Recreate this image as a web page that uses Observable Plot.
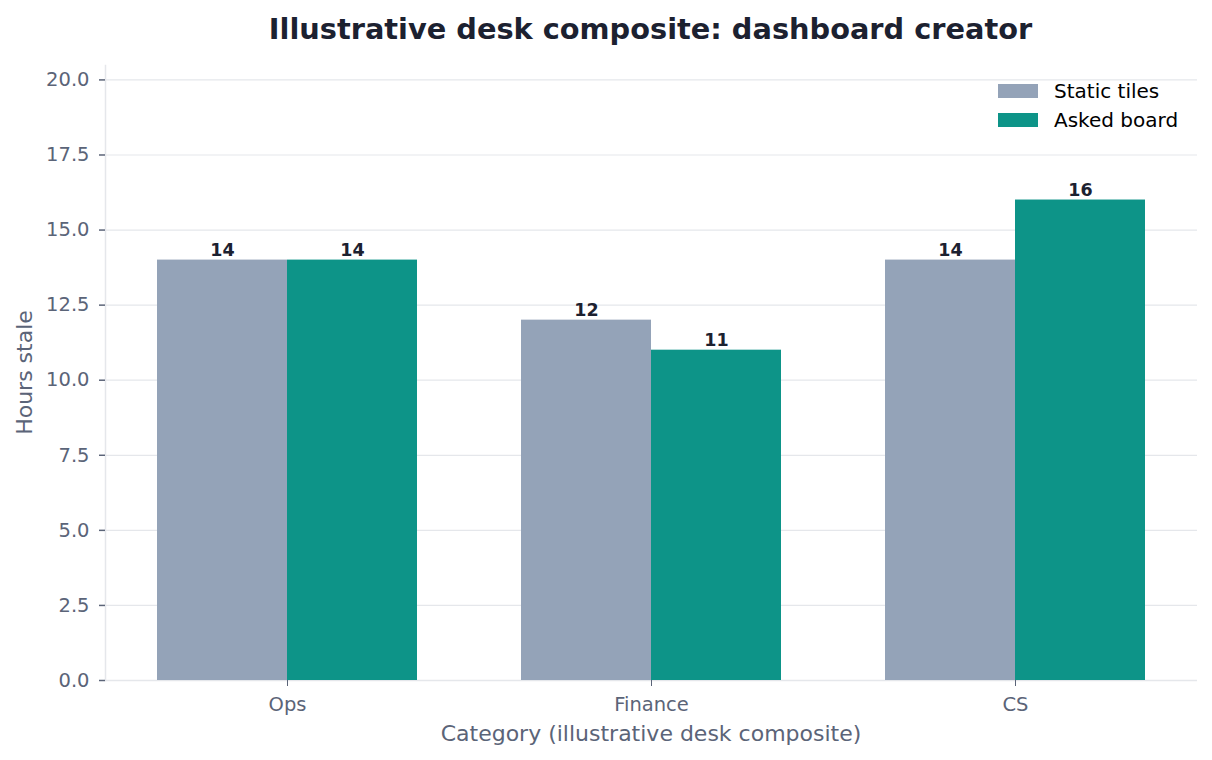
<!DOCTYPE html>
<html>
<head>
<meta charset="utf-8">
<script src="https://cdn.jsdelivr.net/npm/d3@7"></script>
<script src="https://cdn.jsdelivr.net/npm/@observablehq/plot@0.6"></script>
<style>
  body { margin: 0; background: #fff; font-family: "DejaVu Sans", sans-serif; }
  #wrap { position: relative; width: 1212px; height: 760px; }
  #title { position: absolute; top: 0; left: 0; width: 1212px; height: 60px; text-align: center;
           font-size: 28.8px; font-weight: bold; color: #1c2130; line-height: 58px; padding-left: 89px; box-sizing: border-box; }
  #chart { position: absolute; top: 60px; left: 0; }
  #legend { position: absolute; top: 76px; left: 998px; font-size: 20px; color: #000; }
  .item { display: flex; align-items: center; height: 29px; }
  .sw { width: 40px; height: 14px; margin-right: 16px; }
</style>
</head>
<body>
<div id="wrap">
  <div id="title">Illustrative desk composite: dashboard creator</div>
  <div id="chart"></div>
  <div id="legend"></div>
</div>
<script>
const categories = ["Ops", "Finance", "CS"];
const series = ["Static tiles", "Asked board"];
const staticTiles = [14, 12, 14];
const askedBoard = [14, 11, 16];
const colors = ["#94a3b8", "#0d9488"];
const yTicks = [0, 2.5, 5, 7.5, 10, 12.5, 15, 17.5, 20];

const data = [];
categories.forEach((c, i) => {
  data.push({category: c, series: series[0], value: staticTiles[i]});
  data.push({category: c, series: series[1], value: askedBoard[i]});
});

const axisColor = "#5b6478";
const gridColor = "#e5e7eb";

const plot = Plot.plot({
  width: 1212,
  height: 700,
  marginTop: 5,
  marginBottom: 80,
  marginLeft: 105,
  marginRight: 15,
  style: { fontFamily: "DejaVu Sans, sans-serif", fontSize: "20px", color: axisColor, background: "#fff" },
  fx: { domain: categories, paddingInner: 0, paddingOuter: -0.004, label: null },
  x: { domain: series, paddingInner: 0, paddingOuter: 0.393, axis: null },
  y: { domain: [0, 20.48], ticks: yTicks, label: null },
  color: { domain: series, range: colors },
  marks: [
    Plot.gridY(yTicks, { stroke: gridColor, strokeOpacity: 1, strokeWidth: 1.2 }),
    Plot.ruleY([0], { stroke: gridColor, strokeWidth: 1.5 }),
    Plot.frame({ facet: "super", anchor: "left", stroke: gridColor, strokeWidth: 1.5 }),
    Plot.barY(data, { fx: "category", x: "series", y: "value", fill: "series" }),
    Plot.text(data, { fx: "category", x: "series", y: "value", text: d => String(d.value),
      lineAnchor: "bottom", dy: -4, fontWeight: "bold", fontSize: 17.5, fill: "#1c2130" }),
    Plot.axisY(yTicks, { tickFormat: d3.format(".1f"), tickSize: 6, tickPadding: 10, stroke: axisColor, fill: axisColor, fontSize: 19.5, strokeWidth: 1.5, label: null }),
    Plot.axisFx({ anchor: "bottom", tickSize: 6, tickPadding: 11, stroke: axisColor, fill: axisColor, fontSize: 19.5, label: null })
  ]
});

// axis titles
const svg = d3.select(plot);
svg.append("text").attr("x", 105 + (1212 - 105 - 15) / 2).attr("y", 681).attr("text-anchor", "middle")
  .attr("font-size", 22).attr("fill", axisColor).attr("font-family", "DejaVu Sans, sans-serif")
  .text("Category (illustrative desk composite)");
svg.append("text").attr("transform", `translate(32, ${5 + 615 / 2}) rotate(-90)`).attr("text-anchor", "middle")
  .attr("font-size", 22).attr("fill", axisColor).attr("font-family", "DejaVu Sans, sans-serif")
  .text("Hours stale");

document.getElementById("chart").appendChild(plot);

const legend = document.getElementById("legend");
series.forEach((s, i) => {
  const item = document.createElement("div");
  item.className = "item";
  item.innerHTML = `<div class="sw" style="background:${colors[i]}"></div><span>${s}</span>`;
  legend.appendChild(item);
});
</script>
</body>
</html>
